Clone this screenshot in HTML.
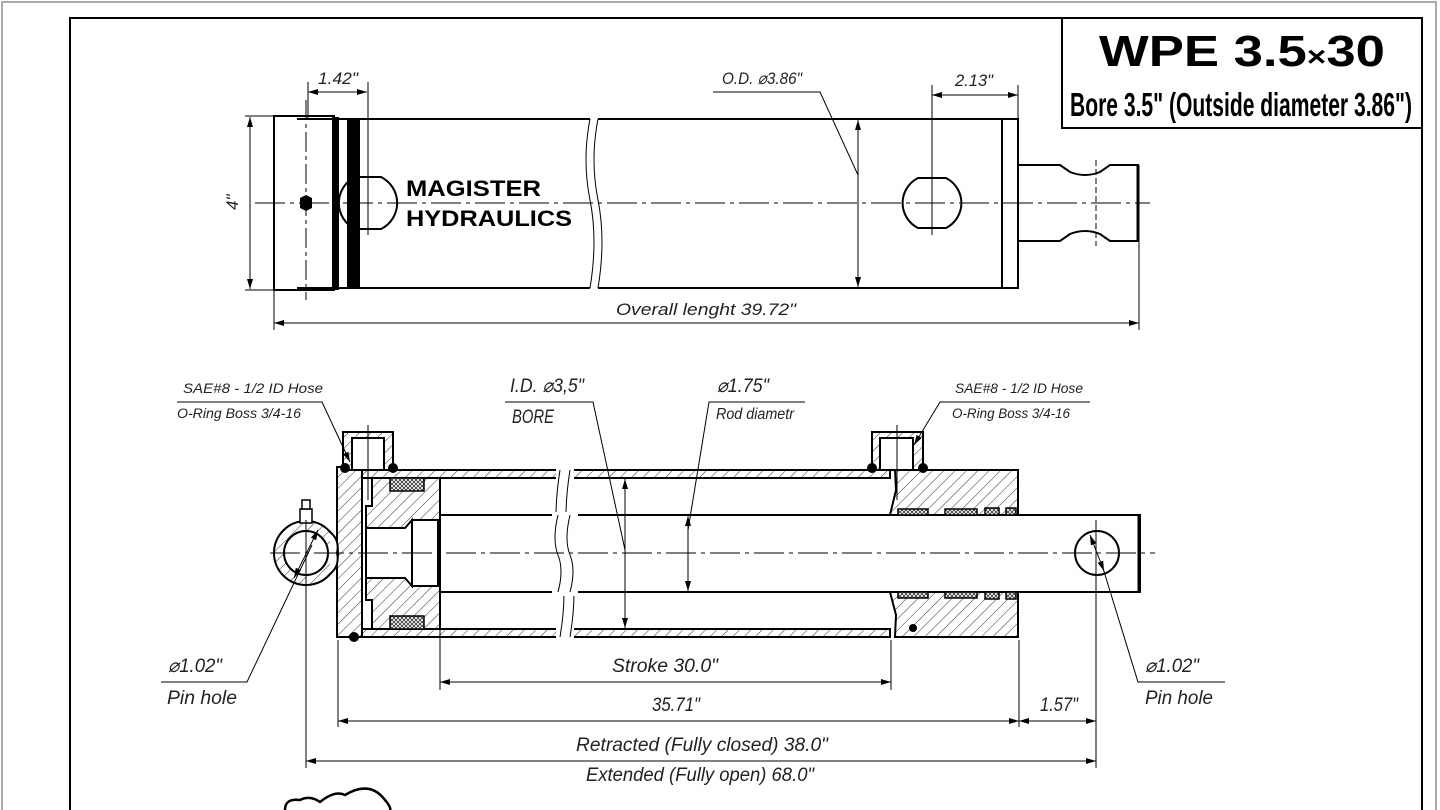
<!DOCTYPE html>
<html><head><meta charset="utf-8"><style>
html,body{margin:0;padding:0;background:#fff;}
svg{display:block;}
.t{font-family:"Liberation Sans",sans-serif;font-style:italic;fill:#222;}
.l{stroke:#000;fill:none;}
</style></head><body>
<svg width="1440" height="810" viewBox="0 0 1440 810" xmlns="http://www.w3.org/2000/svg">
<defs>
<pattern id="h" width="8" height="8" patternUnits="userSpaceOnUse" patternTransform="rotate(45)">
<rect width="8" height="8" fill="#fff"/><line x1="0" y1="0" x2="0" y2="8" stroke="#333" stroke-width="1"/></pattern>
<pattern id="x" width="4" height="4" patternUnits="userSpaceOnUse">
<rect width="4" height="4" fill="#fff"/><path d="M0 0L4 4M4 0L0 4" stroke="#333" stroke-width="0.8"/></pattern>
<marker id="a" viewBox="0 0 10 6" refX="10" refY="3" markerWidth="10" markerHeight="6" orient="auto-start-reverse" markerUnits="userSpaceOnUse"><path d="M0 0L10 3L0 6z" fill="#000"/></marker>
</defs>
<rect x="2" y="2" width="1434" height="820" fill="none" stroke="#aaa" stroke-width="2"/>
<rect x="70" y="18" width="1352" height="810" fill="none" stroke="#000" stroke-width="2"/>
<rect x="1062" y="18" width="360" height="110" fill="#fff" stroke="#000" stroke-width="2"/>
<text x="1099" y="66" font-family="Liberation Sans,sans-serif" font-weight="bold" font-size="44" textLength="286" lengthAdjust="spacingAndGlyphs">WPE 3.5<tspan font-size="28">×</tspan>30</text>
<text x="1070" y="116" font-family="Liberation Sans,sans-serif" font-weight="bold" font-size="33" textLength="342" lengthAdjust="spacingAndGlyphs">Bore 3.5" (Outside diameter 3.86")</text>

<g class="l" stroke-width="2">
<rect x="274" y="116" width="60" height="174"/>
<path d="M297 119H590 M598 119H1018V288H598 M590 288H297"/>
<path d="M590 119Q582 160 590 200T590 288 M598 119Q590 160 598 200T598 288" stroke-width="1"/>
<line x1="1002" y1="119" x2="1002" y2="288"/>
<path d="M1018 165H1060L1070 172Q1085 178 1100 172L1110 165H1138V241H1110L1100 234Q1085 228 1070 234L1060 241H1018"/>
<path d="M1138 165V241" stroke-width="3"/>
<path d="M355 177H381A29 29 0 0 1 381 229H355A29 29 0 0 1 355 177Z"/>
<path d="M918 178H946A28 28 0 0 1 946 228H918A28 28 0 0 1 918 178Z"/>
</g>
<rect x="332" y="117" width="7" height="173" fill="#000"/>
<rect x="347" y="118" width="13" height="171" fill="#000"/>
<polygon points="300,198 306,195 312,198 312,208 306,211 300,208" fill="#000"/>
<g stroke="#000" stroke-width="1" fill="none">
<path d="M255 203H1150" stroke-dasharray="30 5 4 5"/>
<line x1="306" y1="100" x2="306" y2="300" stroke-dasharray="20 4 4 4"/>
<line x1="368" y1="82" x2="368" y2="235"/>
<line x1="308" y1="82" x2="308" y2="120"/>
<line x1="308" y1="92" x2="367" y2="92" marker-start="url(#a)" marker-end="url(#a)"/>
<line x1="245" y1="116" x2="274" y2="116"/><line x1="245" y1="290" x2="274" y2="290"/>
<line x1="250" y1="117" x2="250" y2="289" marker-start="url(#a)" marker-end="url(#a)"/>
<path d="M713 92H820L858 175"/>
<line x1="858" y1="120" x2="858" y2="287" marker-start="url(#a)" marker-end="url(#a)"/>
<line x1="932" y1="85" x2="932" y2="235"/><line x1="1018" y1="85" x2="1018" y2="119"/>
<line x1="932" y1="95" x2="1018" y2="95" marker-start="url(#a)" marker-end="url(#a)"/>
<line x1="1096" y1="160" x2="1096" y2="246" stroke-dasharray="6 3"/>
<line x1="274" y1="290" x2="274" y2="330"/><line x1="1139" y1="241" x2="1139" y2="330"/>
<line x1="274" y1="323" x2="1139" y2="323" marker-start="url(#a)" marker-end="url(#a)"/>
</g>
<text x="406" y="196" font-family="Liberation Sans,sans-serif" font-weight="bold" font-size="22" textLength="135" lengthAdjust="spacingAndGlyphs">MAGISTER</text>
<text x="406" y="226" font-family="Liberation Sans,sans-serif" font-weight="bold" font-size="22" textLength="166" lengthAdjust="spacingAndGlyphs">HYDRAULICS</text>
<g class="t" font-size="17">
<text x="318" y="84" textLength="40" lengthAdjust="spacingAndGlyphs">1.42"</text>
<text x="238" y="210" transform="rotate(-90 238 210)">4"</text>
<text x="722" y="84" textLength="80" lengthAdjust="spacingAndGlyphs">O.D. ⌀3.86"</text>
<text x="955" y="86" textLength="38" lengthAdjust="spacingAndGlyphs">2.13"</text>
<text x="616" y="315" textLength="180" lengthAdjust="spacingAndGlyphs">Overall lenght 39.72"</text>
</g>

<rect x="362" y="470" width="198" height="8" fill="url(#h)" stroke="#000" stroke-width="2"/>
<rect x="570" y="470" width="320" height="8" fill="url(#h)" stroke="#000" stroke-width="2"/>
<rect x="362" y="629" width="198" height="8" fill="url(#h)" stroke="#000" stroke-width="2"/>
<rect x="570" y="629" width="320" height="8" fill="url(#h)" stroke="#000" stroke-width="2"/>
<rect x="556" y="466" width="18" height="176" fill="#fff"/>
<path d="M560 470Q552 520 560 555T560 637 M570 470Q562 520 570 555T570 637" stroke="#000" fill="none" stroke-width="1"/>
<rect x="337" y="467" width="25" height="170" fill="url(#h)" stroke="#000" stroke-width="2"/>
<circle cx="306" cy="553" r="32" fill="url(#h)" stroke="#000" stroke-width="2"/>
<circle cx="306" cy="553" r="22" fill="#fff" stroke="#000" stroke-width="2"/>
<path d="M330 532Q340 540 337 553Q340 566 330 574" fill="#fff" stroke="#000" stroke-width="2"/>
<rect x="300" y="509" width="12" height="14" fill="#fff" stroke="#000" stroke-width="1.5"/>
<rect x="302" y="500" width="8" height="9" fill="#fff" stroke="#000" stroke-width="1.5"/>
<path d="M372 478H440V629H372V600H366V506H372Z" fill="url(#h)" stroke="#000" stroke-width="2"/>
<rect x="390" y="478" width="34" height="13" fill="url(#x)" stroke="#000" stroke-width="1.5"/>
<rect x="390" y="616" width="34" height="13" fill="url(#x)" stroke="#000" stroke-width="1.5"/>
<path d="M366 528H405L412 520V586L405 578H366Z" fill="#fff" stroke="#000" stroke-width="2"/>
<rect x="412" y="520" width="26" height="66" fill="#fff" stroke="#000" stroke-width="2"/>
<rect x="440" y="515" width="700" height="77" fill="#fff" stroke="#000" stroke-width="2"/>
<line x1="1139" y1="515" x2="1139" y2="592" stroke="#000" stroke-width="3"/>
<rect x="552" y="512" width="26" height="84" fill="#fff"/>
<path d="M558 515Q552 540 558 555T558 592 M570 515Q564 540 570 555T570 592" stroke="#000" fill="none" stroke-width="1"/>
<path d="M895 470H1018V515H890L896 490Z" fill="url(#h)" stroke="#000" stroke-width="2"/>
<path d="M896 592H1018V637H895L896 615L890 592Z" fill="url(#h)" stroke="#000" stroke-width="2"/>
<g fill="url(#x)" stroke="#000" stroke-width="1.5">
<rect x="898" y="509" width="30" height="6"/><rect x="945" y="509" width="32" height="6"/><rect x="985" y="508" width="14" height="7"/><rect x="1006" y="508" width="10" height="7"/>
<rect x="898" y="592" width="30" height="6"/><rect x="945" y="592" width="32" height="6"/><rect x="985" y="592" width="14" height="7"/><rect x="1006" y="592" width="10" height="7"/>
</g>
<circle cx="1097" cy="553" r="22" fill="#fff" stroke="#000" stroke-width="2"/>
<g stroke="#000" stroke-width="2">
<rect x="343" y="432" width="50" height="38" fill="url(#h)"/>
<rect x="352" y="438" width="32" height="32" fill="#fff"/>
<rect x="872" y="432" width="51" height="38" fill="url(#h)"/>
<rect x="880" y="438" width="33" height="32" fill="#fff"/>
</g>
<g fill="#000"><circle cx="345" cy="468" r="5"/><circle cx="393" cy="468" r="5"/><circle cx="872" cy="468" r="5"/><circle cx="923" cy="468" r="5"/><circle cx="354" cy="637" r="5"/><circle cx="913" cy="628" r="4"/></g>
<g stroke="#000" stroke-width="1" fill="none">
<path d="M270 553H1155" stroke-dasharray="30 5 4 5"/>
<line x1="368" y1="425" x2="368" y2="500"/><line x1="897" y1="425" x2="897" y2="500"/>
<line x1="318" y1="530" x2="294" y2="578" marker-start="url(#a)" marker-end="url(#a)"/>
<line x1="1090" y1="535" x2="1104" y2="571" marker-start="url(#a)" marker-end="url(#a)"/>
<path d="M177 402H322L350 462" marker-end="url(#a)"/>
<path d="M1090 402H940L914 445" marker-end="url(#a)"/>
<path d="M505 402H593L625 550"/>
<line x1="625" y1="479" x2="625" y2="628" marker-start="url(#a)" marker-end="url(#a)"/>
<path d="M805 402H709L688 530"/>
<line x1="688" y1="516" x2="688" y2="591" marker-start="url(#a)" marker-end="url(#a)"/>
<path d="M161 682H247L312 545"/>
<path d="M1225 682H1138L1102 565"/>
<line x1="306" y1="520" x2="306" y2="768"/>
<line x1="338" y1="640" x2="338" y2="727"/>
<line x1="440" y1="600" x2="440" y2="690"/>
<line x1="891" y1="640" x2="891" y2="690"/>
<line x1="1019" y1="640" x2="1019" y2="727"/>
<line x1="1096" y1="520" x2="1096" y2="768"/>
<line x1="440" y1="682" x2="891" y2="682" marker-start="url(#a)" marker-end="url(#a)"/>
<line x1="338" y1="721" x2="1019" y2="721" marker-start="url(#a)" marker-end="url(#a)"/>
<line x1="1019" y1="721" x2="1096" y2="721" marker-start="url(#a)" marker-end="url(#a)"/>
<line x1="306" y1="761" x2="1096" y2="761" marker-start="url(#a)" marker-end="url(#a)"/>
</g>
<path d="M285 810Q285 798 300 800Q310 795 320 802Q335 790 345 795Q370 780 385 800Q392 808 390 812" stroke="#000" stroke-width="2.5" fill="none"/>
<g class="t" font-size="14">
<text x="183" y="393" textLength="140" lengthAdjust="spacingAndGlyphs">SAE#8 - 1/2 ID Hose</text>
<text x="177" y="418" textLength="124" lengthAdjust="spacingAndGlyphs">O-Ring Boss 3/4-16</text>
<text x="955" y="393" textLength="128" lengthAdjust="spacingAndGlyphs">SAE#8 - 1/2 ID Hose</text>
<text x="952" y="418" textLength="118" lengthAdjust="spacingAndGlyphs">O-Ring Boss 3/4-16</text>
</g>
<g class="t" font-size="19">
<text x="510" y="392" textLength="74" lengthAdjust="spacingAndGlyphs">I.D. ⌀3,5"</text>
<text x="512" y="423" textLength="42" lengthAdjust="spacingAndGlyphs">BORE</text>
<text x="717" y="392" textLength="52" lengthAdjust="spacingAndGlyphs">⌀1.75"</text>
<text x="716" y="419" font-size="16" textLength="78" lengthAdjust="spacingAndGlyphs">Rod diametr</text>
<text x="168" y="672" textLength="54" lengthAdjust="spacingAndGlyphs">⌀1.02"</text>
<text x="167" y="704" textLength="70" lengthAdjust="spacingAndGlyphs">Pin hole</text>
<text x="1145" y="672" textLength="54" lengthAdjust="spacingAndGlyphs">⌀1.02"</text>
<text x="1145" y="704" textLength="68" lengthAdjust="spacingAndGlyphs">Pin hole</text>
<text x="612" y="672" textLength="106" lengthAdjust="spacingAndGlyphs">Stroke 30.0"</text>
<text x="652" y="711" textLength="48" lengthAdjust="spacingAndGlyphs">35.71"</text>
<text x="1040" y="711" textLength="38" lengthAdjust="spacingAndGlyphs">1.57"</text>
<text x="576" y="751" textLength="252" lengthAdjust="spacingAndGlyphs">Retracted (Fully closed) 38.0"</text>
<text x="586" y="781" textLength="228" lengthAdjust="spacingAndGlyphs">Extended (Fully open) 68.0"</text>
</g>
</svg>
</body></html>
